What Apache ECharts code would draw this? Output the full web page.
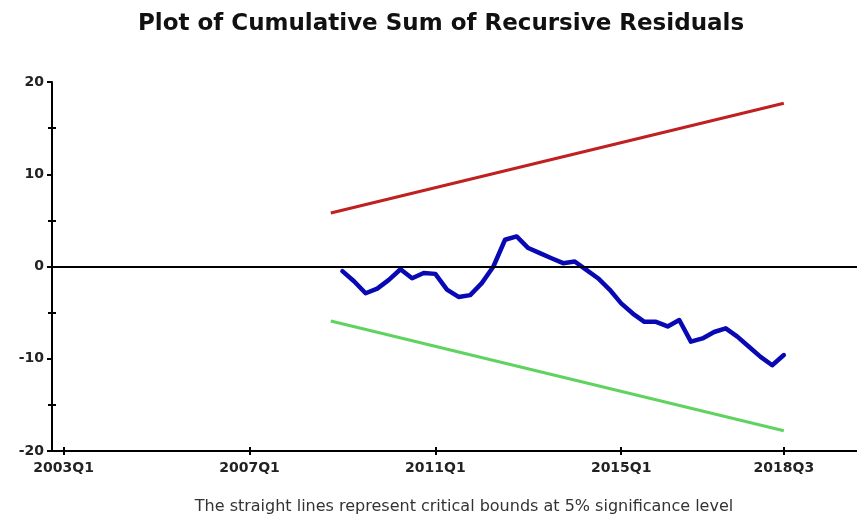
<!DOCTYPE html>
<html>
<head>
<meta charset="utf-8">
<script src="https://cdn.jsdelivr.net/npm/echarts@6/dist/echarts.min.js"></script>
<style>
  html, body { margin: 0; padding: 0; background: #ffffff; }
  #chart { width: 857px; height: 529px; }
</style>
</head>
<body>
<div id="chart"></div>
<script>
// Quarters shown on the horizontal axis
const tickQuarters = ['2003Q1', '2007Q1', '2011Q1', '2015Q1', '2018Q3'];

// Cumulative sum of recursive residuals, one value per quarter from 2009Q1 to 2018Q3
const cusumStart = '2009Q1';
const cusumValues = [
  -0.5, -1.6, -2.9, -2.4, -1.45, -0.3, -1.27, -0.7, -0.8, -2.5,
  -3.3, -3.1, -1.8, 0.0, 2.9, 3.26, 2.0, 1.45, 0.9, 0.36,
  0.54, -0.36, -1.27, -2.5, -4.0, -5.1, -6.0, -6.0, -6.5, -5.8,
  -8.15, -7.8, -7.1, -6.7, -7.6, -8.7, -9.8, -10.7, -9.6
];

// 5% critical bounds (straight lines between the end quarters)
const boundQuarters = ['2008Q4', '2018Q3'];
const upperBound = [5.8, 17.7];
const lowerBound = [-5.9, -17.8];

// Quarter string -> position counted in quarters from 2003Q1
const BASE_YEAR = 2003;
function quarterIndex(q) {
  const y = parseInt(q.slice(0, 4), 10);
  const n = parseInt(q.slice(5), 10);
  return (y - BASE_YEAR) * 4 + (n - 1);
}
function quarterName(i) {
  const y = BASE_YEAR + Math.floor(i / 4);
  return y + 'Q' + ((i % 4) + 1);
}

const tickIdx = tickQuarters.map(quarterIndex);
const startIdx = quarterIndex(cusumStart);
const cusumData = cusumValues.map((v, k) => [startIdx + k, v]);
const upperData = boundQuarters.map((q, k) => [quarterIndex(q), upperBound[k]]);
const lowerData = boundQuarters.map((q, k) => [quarterIndex(q), lowerBound[k]]);

const FONT = '"DejaVu Sans", "Liberation Sans", Arial, sans-serif';
const BLACK = '#000000';

const baseX = {
  type: 'value',
  min: -1,
  max: 68.3,
  position: 'bottom',
  splitLine: { show: false }
};
const baseY = {
  type: 'value',
  min: -20,
  max: 20,
  interval: 10,
  position: 'left',
  splitLine: { show: false }
};

const chart = echarts.init(document.getElementById('chart'), null, { renderer: 'canvas' });
chart.setOption({
  animation: false,
  backgroundColor: '#ffffff',
  title: [
    {
      text: 'Plot of Cumulative Sum of Recursive Residuals',
      left: 436,
      top: 8,
      textAlign: 'center',
      textStyle: { fontFamily: FONT, fontSize: 23, fontWeight: 'bold', color: '#111111' }
    },
    {
      text: 'The straight lines represent critical bounds at 5% significance level',
      left: 459,
      top: 494,
      textAlign: 'center',
      textStyle: { fontFamily: FONT, fontSize: 16, fontWeight: 'normal', color: '#333333' }
    }
  ],
  grid: { left: 52, right: 0, top: 82, bottom: 78, containLabel: false },
  xAxis: [
    Object.assign({}, baseX, {
      axisLine: { show: true, onZero: false, lineStyle: { color: BLACK, width: 2 } },
      axisTick: { show: true, customValues: tickIdx, length: 4, lineStyle: { color: BLACK, width: 2 } },
      axisLabel: {
        show: true,
        customValues: tickIdx,
        formatter: v => quarterName(Math.round(v)),
        margin: 10,
        fontFamily: FONT,
        fontSize: 14,
        fontWeight: 'bold',
        color: '#222222'
      }
    }),
    Object.assign({}, baseX, {
      axisLine: { show: false, onZero: false },
      axisTick: { show: true, inside: true, customValues: tickIdx, length: 4, lineStyle: { color: BLACK, width: 2 } },
      axisLabel: { show: false }
    })
  ],
  yAxis: [
    Object.assign({}, baseY, {
      axisLine: { show: true, onZero: false, lineStyle: { color: BLACK, width: 2 } },
      axisTick: { show: true, length: 5, lineStyle: { color: BLACK, width: 2 } },
      minorTick: { show: true, splitNumber: 2, length: 4, lineStyle: { color: BLACK, width: 2 } },
      axisLabel: {
        show: true,
        margin: 8,
        fontFamily: FONT,
        fontSize: 14,
        fontWeight: 'bold',
        color: '#222222'
      }
    }),
    Object.assign({}, baseY, {
      axisLine: { show: false, onZero: false },
      axisTick: { show: false, inside: true },
      minorTick: { show: true, splitNumber: 2, length: 4, lineStyle: { color: BLACK, width: 2 } },
      axisLabel: { show: false }
    })
  ],
  series: [
    {
      name: 'Upper bound',
      type: 'line',
      data: upperData,
      showSymbol: false,
      lineStyle: { color: '#bf2020', width: 3 },
      z: 3
    },
    {
      name: 'Lower bound',
      type: 'line',
      data: lowerData,
      showSymbol: false,
      lineStyle: { color: '#5fd35f', width: 3 },
      z: 3
    },
    {
      name: 'CUSUM',
      type: 'line',
      data: cusumData,
      showSymbol: false,
      lineStyle: { color: '#0808b4', width: 4.5, join: 'round', cap: 'round' },
      z: 4,
      markLine: {
        silent: true,
        symbol: ['none', 'none'],
        label: { show: false },
        lineStyle: { color: BLACK, width: 2, type: 'solid' },
        data: [{ yAxis: 0 }]
      }
    }
  ]
});
</script>
</body>
</html>
